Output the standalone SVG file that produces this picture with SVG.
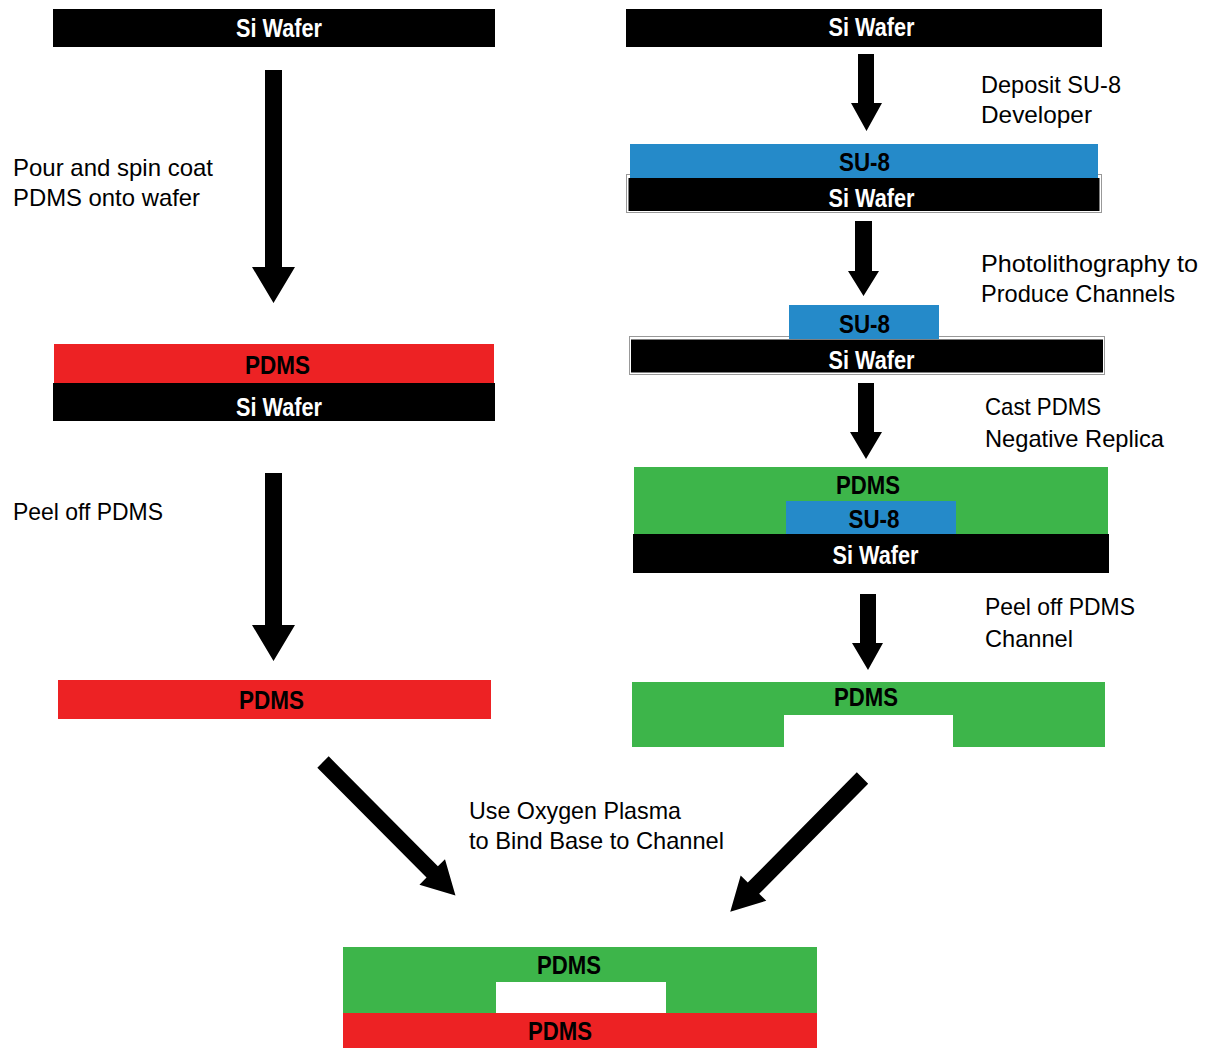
<svg xmlns="http://www.w3.org/2000/svg" width="1210" height="1048" viewBox="0 0 1210 1048">
<style>
.lbl{font-family:"Liberation Sans",Arial,sans-serif;font-size:24px;fill:#000}
.b{font-family:"Liberation Sans Narrow","Liberation Sans",Arial,sans-serif;font-weight:bold;font-size:26.5px;text-anchor:middle}
.w{fill:#fff}
.k{fill:#000}
.si{fill:#000}
.red{fill:#ED2224}
.grn{fill:#3DB54A}
.blu{fill:#258AC9}
.frame{fill:#fff;stroke:#999;stroke-width:1}
.arr{fill:#000}
</style>
<rect width="1210" height="1048" fill="#fff"/>

<g id="connectors">
  <path class="arr" d="M265,70 H282 V267 H295 L273.5,303 L252,267 H265 Z"/>
  <path class="arr" d="M265,473 H282 V625 H295 L273.5,661 L252,625 H265 Z"/>
  <path class="arr" d="M858,54 H874 V103 H882 L866.5,131 L851,103 H858 Z"/>
  <path class="arr" d="M855,221 H872 V271 H879 L863.5,296 L848,271 H855 Z"/>
  <path class="arr" d="M858,383 H874 V432 H882 L866,459 L850,432 H858 Z"/>
  <path class="arr" d="M860,594 H876 V643 H883 L868,670 L852,643 H860 Z"/>
  <path class="arr" transform="translate(323,762) rotate(-44.8)" d="M-8,0 H8 V155 H18 L0,188 L-18,155 H-8 Z"/>
  <path class="arr" transform="translate(862.5,778) rotate(44.7)" d="M-8,0 H8 V155 H18 L0,188 L-18,155 H-8 Z"/>
</g>

<g id="left-wafer">
  <rect class="si" x="53" y="9" width="442" height="38"/>
  <text class="b w" x="279" y="36.5" textLength="86" lengthAdjust="spacingAndGlyphs">Si Wafer</text>
</g>

<g id="label-pour">
  <text class="lbl" x="13" y="176" textLength="200" lengthAdjust="spacingAndGlyphs">Pour and spin coat</text>
  <text class="lbl" x="13" y="206" textLength="187" lengthAdjust="spacingAndGlyphs">PDMS onto wafer</text>
</g>

<g id="left-pdms-on-wafer">
  <rect class="red" x="54" y="344" width="440" height="39"/>
  <rect class="si" x="53" y="383" width="442" height="38"/>
  <text class="b k" x="277.5" y="373.5" textLength="65" lengthAdjust="spacingAndGlyphs">PDMS</text>
  <text class="b w" x="279" y="415.5" textLength="86" lengthAdjust="spacingAndGlyphs">Si Wafer</text>
</g>

<g id="label-peel-left">
  <text class="lbl" x="13" y="520" textLength="150" lengthAdjust="spacingAndGlyphs">Peel off PDMS</text>
</g>

<g id="left-pdms">
  <rect class="red" x="58" y="680" width="433" height="39"/>
  <text class="b k" x="271.5" y="708.5" textLength="65" lengthAdjust="spacingAndGlyphs">PDMS</text>
</g>

<g id="right-wafer">
  <rect class="si" x="626" y="9" width="476" height="38"/>
  <text class="b w" x="871.5" y="35.5" textLength="86" lengthAdjust="spacingAndGlyphs">Si Wafer</text>
</g>

<g id="label-deposit">
  <text class="lbl" x="981" y="93" textLength="140" lengthAdjust="spacingAndGlyphs">Deposit SU-8</text>
  <text class="lbl" x="981" y="123" textLength="111" lengthAdjust="spacingAndGlyphs">Developer</text>
</g>

<g id="su8-on-wafer">
  <rect class="frame" x="626.5" y="174.5" width="475" height="38"/>
  <rect class="si" x="628.5" y="178" width="471" height="33"/>
  <rect class="blu" x="630" y="144" width="468" height="34"/>
  <text class="b k" x="864.5" y="170.5" textLength="51" lengthAdjust="spacingAndGlyphs">SU-8</text>
  <text class="b w" x="871.5" y="206.5" textLength="86" lengthAdjust="spacingAndGlyphs">Si Wafer</text>
</g>

<g id="label-photo">
  <text class="lbl" x="981" y="272" textLength="217" lengthAdjust="spacingAndGlyphs">Photolithography to</text>
  <text class="lbl" x="981" y="302" textLength="194" lengthAdjust="spacingAndGlyphs">Produce Channels</text>
</g>

<g id="patterned-su8">
  <rect class="frame" x="629.5" y="336.5" width="475" height="38"/>
  <rect class="si" x="631" y="339.5" width="472" height="33"/>
  <rect class="blu" x="789" y="305" width="150" height="34"/>
  <text class="b k" x="864.5" y="332.5" textLength="51" lengthAdjust="spacingAndGlyphs">SU-8</text>
  <text class="b w" x="871.5" y="368.5" textLength="86" lengthAdjust="spacingAndGlyphs">Si Wafer</text>
</g>

<g id="label-cast">
  <text class="lbl" x="985" y="415" textLength="116" lengthAdjust="spacingAndGlyphs">Cast PDMS</text>
  <text class="lbl" x="985" y="447" textLength="179" lengthAdjust="spacingAndGlyphs">Negative Replica</text>
</g>

<g id="cast-pdms">
  <rect class="grn" x="634" y="467" width="474" height="68"/>
  <rect class="blu" x="786" y="501" width="170" height="34"/>
  <rect class="si" x="633" y="534" width="476" height="39"/>
  <text class="b k" x="868" y="493.5" textLength="64" lengthAdjust="spacingAndGlyphs">PDMS</text>
  <text class="b k" x="874" y="527.5" textLength="51" lengthAdjust="spacingAndGlyphs">SU-8</text>
  <text class="b w" x="875.5" y="563.5" textLength="86" lengthAdjust="spacingAndGlyphs">Si Wafer</text>
</g>

<g id="label-peel-right">
  <text class="lbl" x="985" y="615" textLength="150" lengthAdjust="spacingAndGlyphs">Peel off PDMS</text>
  <text class="lbl" x="985" y="647" textLength="88" lengthAdjust="spacingAndGlyphs">Channel</text>
</g>

<g id="pdms-channel">
  <path class="grn" d="M632,682 H1105 V747 H953 V715 H784 V747 H632 Z"/>
  <text class="b k" x="866" y="705.5" textLength="64" lengthAdjust="spacingAndGlyphs">PDMS</text>
</g>

<g id="label-plasma">
  <text class="lbl" x="469" y="819" textLength="212" lengthAdjust="spacingAndGlyphs">Use Oxygen Plasma</text>
  <text class="lbl" x="469" y="849" textLength="255" lengthAdjust="spacingAndGlyphs">to Bind Base to Channel</text>
</g>

<g id="bonded-device">
  <rect class="grn" x="343" y="947" width="474" height="66"/>
  <rect class="w" x="496" y="982" width="170" height="31"/>
  <rect class="red" x="343" y="1013" width="474" height="35"/>
  <text class="b k" x="569" y="973.5" textLength="64" lengthAdjust="spacingAndGlyphs">PDMS</text>
  <text class="b k" x="560" y="1039.5" textLength="64" lengthAdjust="spacingAndGlyphs">PDMS</text>
</g>
</svg>
